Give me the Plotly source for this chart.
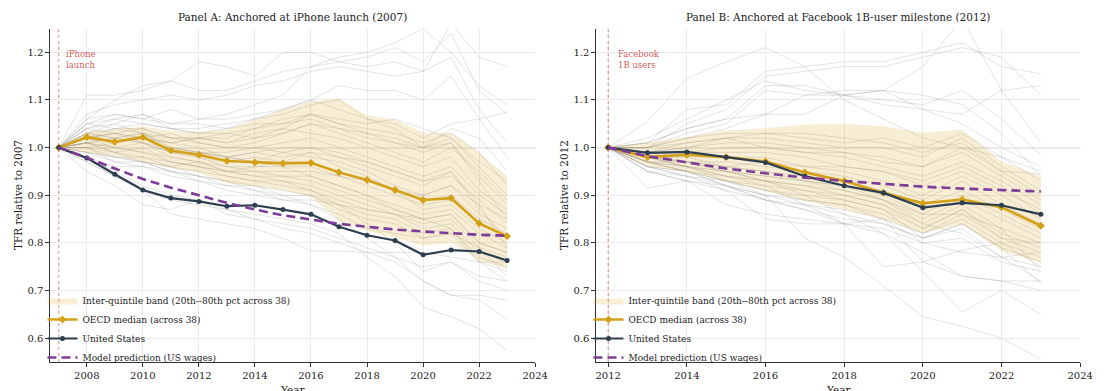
import plotly.graph_objects as go

# ---------------- data ----------------
years_a = list(range(2007, 2024))
years_b = list(range(2012, 2024))
anchor_a = 2007
anchor_b = 2012

median_a = [1.000, 1.022, 1.012, 1.022, 0.994, 0.985, 0.972, 0.969, 0.967, 0.968,
            0.948, 0.932, 0.911, 0.890, 0.894, 0.841, 0.814]
us_a = [1.000, 0.978, 0.944, 0.911, 0.894, 0.887, 0.877, 0.879, 0.870, 0.860,
        0.834, 0.816, 0.805, 0.775, 0.785, 0.782, 0.763]
model_a = [1.000, 0.979, 0.956, 0.934, 0.916, 0.900, 0.884, 0.870, 0.858, 0.849,
           0.840, 0.834, 0.828, 0.824, 0.820, 0.817, 0.815]
band_lo_a = [1.000, 0.989, 0.982, 0.971, 0.957, 0.947, 0.925, 0.919, 0.911, 0.897,
             0.847, 0.825, 0.811, 0.794, 0.801, 0.762, 0.745]
band_hi_a = [1.000, 1.033, 1.038, 1.045, 1.035, 1.032, 1.038, 1.058, 1.080, 1.097,
             1.103, 1.068, 1.059, 1.031, 1.031, 0.989, 0.940]

median_b = [1.000, 0.980, 0.985, 0.980, 0.971, 0.948, 0.930, 0.905, 0.883, 0.891,
            0.875, 0.836]
us_b = [1.000, 0.989, 0.991, 0.980, 0.969, 0.940, 0.920, 0.905, 0.874, 0.884,
        0.879, 0.860]
model_b = [1.000, 0.982, 0.969, 0.956, 0.946, 0.937, 0.930, 0.924, 0.918, 0.914,
           0.911, 0.908]
band_lo_b = [1.000, 0.961, 0.950, 0.930, 0.909, 0.888, 0.870, 0.849, 0.821, 0.839,
             0.783, 0.759]
band_hi_b = [1.000, 1.010, 1.022, 1.036, 1.041, 1.048, 1.050, 1.045, 1.031, 1.038,
             0.971, 0.940]

# individual OECD country trajectories (relative to anchor year)
countries_a = [
    [1.00, 1.06, 1.10, 1.13, 1.14, 1.18, 1.17, 1.15, 1.20, 1.20, 1.18, 1.17, 1.18, 1.16, 1.26, 1.19, 1.17],
    [1.00, 1.11, 1.11, 1.12, 1.14, 1.12, 1.12, 1.14, 1.16, 1.17, 1.19, 1.20, 1.22, 1.25, 1.20, 1.13, 1.09],
    [1.00, 1.05, 1.07, 1.06, 1.08, 1.06, 1.07, 1.09, 1.11, 1.17, 1.18, 1.19, 1.21, 1.18, 1.24, 1.12, 1.07],
    [1.00, 1.07, 1.09, 1.10, 1.11, 1.10, 1.11, 1.13, 1.14, 1.16, 1.17, 1.16, 1.15, 1.16, 1.19, 1.08, 1.01],
    [1.00, 1.06, 1.07, 1.06, 1.05, 1.06, 1.06, 1.07, 1.08, 1.10, 1.13, 1.12, 1.12, 1.10, 1.15, 1.06, 0.98],
    [1.00, 1.04, 1.06, 1.07, 1.05, 1.05, 1.04, 1.06, 1.08, 1.10, 1.08, 1.06, 1.05, 1.02, 1.05, 1.06, 1.075],
    [1.00, 1.05, 1.06, 1.05, 1.04, 1.04, 1.05, 1.06, 1.07, 1.09, 1.10, 1.06, 1.04, 1.00, 1.04, 1.02, 0.95],
    [1.00, 1.03, 1.05, 1.07, 1.04, 1.03, 1.03, 1.04, 1.06, 1.07, 1.06, 1.05, 1.06, 1.04, 1.02, 0.97, 0.93],
    [1.00, 1.03, 1.04, 1.05, 1.04, 1.03, 1.04, 1.05, 1.05, 1.07, 1.05, 1.04, 1.03, 1.01, 1.03, 0.99, 0.92],
    [1.00, 1.02, 1.03, 1.04, 1.02, 1.02, 1.02, 1.04, 1.05, 1.06, 1.04, 1.02, 1.01, 1.00, 1.02, 0.96, 0.90],
    [1.00, 1.04, 1.03, 1.02, 1.01, 1.02, 1.03, 1.02, 1.03, 1.05, 1.03, 1.01, 0.99, 0.97, 1.00, 0.95, 0.89],
    [1.00, 1.03, 1.02, 1.03, 1.00, 0.99, 0.99, 1.00, 1.01, 1.02, 1.00, 0.98, 0.96, 0.94, 0.96, 0.90, 0.86],
    [1.00, 1.02, 1.03, 1.02, 1.01, 1.00, 0.98, 0.99, 1.00, 1.00, 0.98, 0.96, 0.94, 0.92, 0.95, 0.88, 0.85],
    [1.00, 1.01, 1.02, 1.03, 1.00, 0.99, 0.98, 0.97, 0.99, 0.98, 0.97, 0.95, 0.92, 0.90, 0.92, 0.86, 0.83],
    [1.00, 1.02, 1.01, 1.02, 0.99, 0.98, 0.97, 0.98, 0.97, 0.97, 0.95, 0.93, 0.91, 0.89, 0.90, 0.85, 0.82],
    [1.00, 1.03, 1.02, 1.01, 0.99, 0.98, 0.96, 0.96, 0.96, 0.96, 0.94, 0.92, 0.90, 0.88, 0.89, 0.84, 0.81],
    [1.00, 1.01, 1.00, 1.01, 0.98, 0.97, 0.96, 0.95, 0.95, 0.95, 0.94, 0.93, 0.91, 0.87, 0.88, 0.83, 0.80],
    [1.00, 1.02, 1.00, 0.99, 0.98, 0.97, 0.95, 0.95, 0.94, 0.94, 0.92, 0.90, 0.88, 0.86, 0.87, 0.82, 0.79],
    [1.00, 1.00, 0.99, 1.00, 0.97, 0.96, 0.95, 0.94, 0.94, 0.93, 0.91, 0.89, 0.87, 0.85, 0.86, 0.80, 0.78],
    [1.00, 1.01, 0.99, 0.98, 0.97, 0.96, 0.94, 0.93, 0.93, 0.92, 0.90, 0.88, 0.86, 0.84, 0.85, 0.79, 0.77],
    [1.00, 1.00, 0.98, 0.98, 0.96, 0.95, 0.94, 0.93, 0.92, 0.91, 0.89, 0.87, 0.86, 0.83, 0.84, 0.78, 0.76],
    [1.00, 0.99, 0.98, 0.97, 0.96, 0.94, 0.93, 0.92, 0.91, 0.90, 0.88, 0.86, 0.85, 0.82, 0.83, 0.77, 0.75],
    [1.00, 1.00, 0.97, 0.97, 0.95, 0.94, 0.92, 0.92, 0.90, 0.90, 0.87, 0.85, 0.84, 0.81, 0.82, 0.76, 0.74],
    [1.00, 1.04, 1.05, 1.03, 1.02, 1.01, 1.00, 1.01, 1.03, 1.05, 1.04, 1.03, 1.01, 0.99, 1.01, 0.94, 0.88],
    [1.00, 1.02, 1.04, 1.04, 1.02, 1.02, 1.01, 1.03, 1.04, 1.03, 1.02, 1.00, 0.98, 0.96, 0.98, 0.91, 0.87],
    [1.00, 1.01, 0.99, 0.97, 0.96, 0.97, 0.95, 0.96, 0.97, 0.99, 0.98, 0.97, 0.95, 0.93, 0.94, 0.89, 0.84],
    [1.00, 0.99, 0.97, 0.96, 0.95, 0.93, 0.91, 0.90, 0.89, 0.89, 0.88, 0.87, 0.86, 0.85, 0.86, 0.80, 0.78],
    [1.00, 0.98, 0.96, 0.96, 0.94, 0.93, 0.92, 0.91, 0.89, 0.88, 0.86, 0.83, 0.82, 0.81, 0.82, 0.79, 0.73],
    [1.00, 0.95, 0.92, 0.88, 0.87, 0.89, 0.86, 0.85, 0.84, 0.83, 0.81, 0.79, 0.77, 0.75, 0.76, 0.73, 0.72],
    [1.00, 0.97, 0.94, 0.91, 0.86, 0.85, 0.84, 0.83, 0.81, 0.783, 0.783, 0.78, 0.78, 0.78, 0.77, 0.76, 0.76],
    [1.00, 0.98, 0.95, 0.92, 0.90, 0.89, 0.87, 0.85, 0.83, 0.82, 0.80, 0.78, 0.76, 0.72, 0.69, 0.69, 0.68],
    [1.00, 0.97, 0.94, 0.91, 0.89, 0.88, 0.87, 0.86, 0.85, 0.84, 0.82, 0.77, 0.73, 0.665, 0.645, 0.62, 0.574],
    [1.00, 0.99, 0.98, 0.97, 0.95, 0.94, 0.93, 0.91, 0.90, 0.88, 0.85, 0.81, 0.77, 0.72, 0.69, 0.68, 0.64],
    [1.00, 1.01, 1.00, 0.99, 0.97, 0.96, 0.95, 0.94, 0.93, 0.91, 0.88, 0.84, 0.80, 0.74, 0.76, 0.72, 0.70],
    [1.00, 1.02, 1.03, 1.01, 1.00, 0.99, 0.98, 0.97, 0.96, 0.94, 0.92, 0.90, 0.87, 0.85, 0.83, 0.76, 0.72],
    [1.00, 1.00, 1.01, 1.02, 1.03, 1.01, 1.00, 1.00, 0.99, 1.00, 0.99, 0.97, 0.95, 0.93, 0.95, 0.87, 0.81],
    [1.00, 1.05, 1.04, 1.03, 1.01, 1.02, 1.01, 1.02, 1.04, 1.07, 1.05, 1.03, 1.02, 1.00, 1.01, 0.93, 0.85],
    [1.00, 1.01, 1.02, 1.01, 0.99, 0.99, 0.98, 0.99, 0.98, 0.99, 0.96, 0.94, 0.91, 0.90, 0.92, 0.88, 0.79],
]

countries_b = [
    [1.00, 1.055, 1.145, 1.18, 1.21, 1.17, 1.10, 1.06, 1.02, 1.00, 0.98, 0.95],
    [1.00, 1.01, 1.08, 1.09, 1.16, 1.17, 1.18, 1.18, 1.20, 1.22, 1.17, 1.155],
    [1.00, 1.00, 1.05, 1.08, 1.15, 1.16, 1.17, 1.17, 1.19, 1.21, 1.19, 1.11],
    [1.00, 1.01, 1.04, 1.06, 1.13, 1.13, 1.11, 1.12, 1.17, 1.27, 1.12, 1.01],
    [1.00, 1.02, 1.06, 1.10, 1.14, 1.12, 1.11, 1.10, 1.09, 1.12, 1.06, 0.985],
    [1.00, 1.00, 1.03, 1.05, 1.12, 1.11, 1.12, 1.12, 1.08, 1.07, 1.12, 1.13],
    [1.00, 1.01, 1.04, 1.06, 1.07, 1.11, 1.11, 1.12, 1.11, 1.09, 1.03, 0.94],
    [1.00, 1.00, 1.02, 1.04, 1.07, 1.07, 1.11, 1.09, 1.08, 1.05, 1.00, 0.96],
    [1.00, 1.00, 1.02, 1.03, 1.03, 1.02, 1.01, 1.02, 1.00, 1.03, 0.98, 0.93],
    [1.00, 0.99, 1.01, 1.02, 1.02, 1.01, 1.00, 1.00, 0.98, 1.02, 0.96, 0.91],
    [1.00, 0.99, 1.00, 1.01, 1.01, 1.00, 0.99, 0.98, 0.96, 1.00, 0.95, 0.90],
    [1.00, 0.99, 0.99, 1.00, 1.00, 0.99, 0.98, 0.96, 0.94, 0.97, 0.93, 0.88],
    [1.00, 0.98, 0.99, 0.99, 0.99, 0.98, 0.96, 0.95, 0.92, 0.95, 0.91, 0.87],
    [1.00, 0.98, 0.98, 0.98, 0.98, 0.96, 0.95, 0.93, 0.90, 0.94, 0.90, 0.85],
    [1.00, 0.98, 0.97, 0.97, 0.96, 0.95, 0.94, 0.92, 0.89, 0.93, 0.88, 0.84],
    [1.00, 0.97, 0.97, 0.96, 0.95, 0.94, 0.93, 0.91, 0.88, 0.91, 0.87, 0.83],
    [1.00, 0.97, 0.96, 0.95, 0.94, 0.93, 0.92, 0.90, 0.86, 0.90, 0.86, 0.82],
    [1.00, 0.97, 0.96, 0.95, 0.93, 0.92, 0.91, 0.89, 0.85, 0.89, 0.85, 0.81],
    [1.00, 0.96, 0.95, 0.94, 0.92, 0.91, 0.90, 0.88, 0.84, 0.88, 0.83, 0.80],
    [1.00, 0.96, 0.95, 0.93, 0.91, 0.90, 0.89, 0.87, 0.83, 0.87, 0.82, 0.79],
    [1.00, 0.96, 0.94, 0.93, 0.90, 0.89, 0.88, 0.86, 0.82, 0.86, 0.81, 0.78],
    [1.00, 0.95, 0.94, 0.92, 0.90, 0.88, 0.87, 0.85, 0.82, 0.85, 0.80, 0.77],
    [1.00, 0.95, 0.93, 0.91, 0.89, 0.88, 0.86, 0.84, 0.81, 0.84, 0.79, 0.76],
    [1.00, 0.99, 1.00, 1.02, 1.03, 1.03, 1.02, 1.01, 0.99, 1.01, 0.95, 0.945],
    [1.00, 1.00, 1.01, 1.02, 1.00, 0.99, 0.99, 0.97, 0.96, 0.99, 0.94, 0.89],
    [1.00, 0.98, 0.97, 0.96, 0.97, 0.96, 0.96, 0.95, 0.93, 0.96, 0.92, 0.86],
    [1.00, 0.915, 0.93, 0.92, 0.89, 0.87, 0.85, 0.84, 0.81, 0.83, 0.77, 0.75],
    [1.00, 0.95, 0.93, 0.88, 0.86, 0.85, 0.84, 0.83, 0.80, 0.78, 0.77, 0.72],
    [1.00, 0.96, 0.94, 0.91, 0.85, 0.84, 0.84, 0.85, 0.76, 0.73, 0.72, 0.72],
    [1.00, 0.97, 0.95, 0.92, 0.90, 0.81, 0.77, 0.71, 0.645, 0.625, 0.60, 0.556],
    [1.00, 0.97, 0.95, 0.93, 0.92, 0.88, 0.84, 0.75, 0.76, 0.785, 0.80, 0.75],
    [1.00, 0.98, 0.96, 0.94, 0.93, 0.90, 0.86, 0.82, 0.74, 0.655, 0.70, 0.65],
    [1.00, 0.97, 0.95, 0.92, 0.89, 0.87, 0.84, 0.82, 0.78, 0.73, 0.72, 0.70],
    [1.00, 0.98, 0.96, 0.93, 0.91, 0.89, 0.88, 0.85, 0.80, 0.81, 0.76, 0.74],
    [1.00, 0.98, 0.97, 0.95, 0.93, 0.91, 0.89, 0.87, 0.81, 0.84, 0.79, 0.715],
    [1.00, 0.99, 0.98, 0.96, 0.95, 0.93, 0.91, 0.89, 0.84, 0.82, 0.77, 0.78],
    [1.00, 0.99, 0.97, 0.95, 0.94, 0.93, 0.92, 0.89, 0.86, 0.86, 0.83, 0.74],
    [1.00, 0.98, 0.96, 0.94, 0.93, 0.92, 0.90, 0.88, 0.83, 0.87, 0.81, 0.80],
]

panel_titles = ["Panel A: Anchored at iPhone launch (2007)",
                "Panel B: Anchored at Facebook 1B-user milestone (2012)"]
event_labels = ["iPhone<br>launch", "Facebook<br>1B users"]
ylabels = ["TFR relative to 2007", "TFR relative to 2012"]
legend_names = ["Inter-quintile band (20th--80th pct across 38)",
                "OECD median (across 38)", "United States",
                "Model prediction (US wages)"]

# ---------------- style ----------------
FONT = "DejaVu Serif"
GOLD = "#D4A017"
NAVY = "#2C3E50"
PURPLE = "#7D3C98"
RED = "rgba(205,70,60,0.9)"
W, H = 1107, 391

fig = go.Figure()


def add_panel(xa, ya, years, countries, lo, hi, med, us, model, legend):
    for c in countries:
        fig.add_trace(go.Scatter(x=years, y=c, mode="lines",
                                 line=dict(color="rgba(150,150,150,0.34)", width=0.8),
                                 showlegend=False, hoverinfo="skip",
                                 xaxis=xa, yaxis=ya))
    fig.add_trace(go.Scatter(x=years, y=lo, mode="lines", line=dict(width=0),
                             showlegend=False, hoverinfo="skip", xaxis=xa, yaxis=ya))
    fig.add_trace(go.Scatter(x=years, y=hi, mode="lines", line=dict(width=0),
                             fill="tonexty", fillcolor="rgba(212,160,23,0.18)",
                             name=legend_names[0], legend=legend, xaxis=xa, yaxis=ya))
    fig.add_trace(go.Scatter(x=years, y=med, mode="lines+markers",
                             line=dict(color=GOLD, width=2.6),
                             marker=dict(symbol="diamond", size=6, color=GOLD),
                             name=legend_names[1], legend=legend, xaxis=xa, yaxis=ya))
    fig.add_trace(go.Scatter(x=years, y=us, mode="lines+markers",
                             line=dict(color=NAVY, width=2.2),
                             marker=dict(symbol="circle", size=5, color=NAVY),
                             name=legend_names[2], legend=legend, xaxis=xa, yaxis=ya))
    fig.add_trace(go.Scatter(x=years, y=model, mode="lines",
                             line=dict(color=PURPLE, width=2.6, dash="9px,5px"),
                             name=legend_names[3], legend=legend, xaxis=xa, yaxis=ya))


add_panel("x", "y", years_a, countries_a, band_lo_a, band_hi_a, median_a, us_a, model_a, "legend")
add_panel("x2", "y2", years_b, countries_b, band_lo_b, band_hi_b, median_b, us_b, model_b, "legend2")

ydom = [1 - 362 / H, 1 - 28.5 / H]
xdomA = [50 / W, 541 / W]
xdomB = [603 / W, 1093 / W]

axis_common = dict(showline=True, linecolor="#333333", linewidth=1,
                   ticks="outside", ticklen=4, tickwidth=1, tickcolor="#333333",
                   showgrid=True, gridcolor="#ececec", gridwidth=0.8,
                   zeroline=False, tickfont=dict(family=FONT, size=10, color="#222222"))

legend_common = dict(xanchor="left", yanchor="middle", traceorder="normal",
                     bgcolor="rgba(0,0,0,0)", font=dict(family=FONT, size=9, color="#222222"),
                     tracegroupgap=0)

fig.update_layout(
    width=W, height=H, margin=dict(l=0, r=0, t=0, b=0),
    paper_bgcolor="white", plot_bgcolor="white",
    font=dict(family=FONT, size=10, color="#222222"),
    xaxis=dict(domain=xdomA, range=[anchor_a - 0.3, 2024], tick0=2008, dtick=2,
               anchor="y", **axis_common),
    yaxis=dict(domain=ydom, range=[0.55, 1.25], tick0=0.6, dtick=0.1,
               tickformat=".1f", anchor="x", **axis_common),
    xaxis2=dict(domain=xdomB, range=[anchor_b - 0.3, 2024], tick0=2012, dtick=2,
                anchor="y2", **axis_common),
    yaxis2=dict(domain=ydom, range=[0.55, 1.25], tick0=0.6, dtick=0.1,
                tickformat=".1f", anchor="x2", **axis_common),
    legend=dict(x=42 / W, y=1 - 329 / H, **legend_common),
    legend2=dict(x=595 / W, y=1 - 329 / H, **legend_common),
    showlegend=True,
)

shapes = []
annotations = []
for i, (xr, yr, anchor, xdom) in enumerate([("x", "y", anchor_a, xdomA), ("x2", "y2", anchor_b, xdomB)]):
    # reference line at 1.0
    shapes.append(dict(type="line", xref=xr + " domain", x0=0, x1=1, yref=yr, y0=1.0, y1=1.0,
                       line=dict(color="rgba(150,150,150,0.75)", width=1.2), layer="below"))
    # event marker
    shapes.append(dict(type="line", xref=xr, x0=anchor, x1=anchor, yref=yr + " domain", y0=0, y1=1,
                       line=dict(color="rgba(220,80,70,0.7)", width=1, dash="dot"), layer="above"))
    annotations.append(dict(xref=xr, yref=yr, x=anchor + 0.2, y=1.212, xanchor="left", yanchor="top",
                            text=event_labels[i], showarrow=False, align="left",
                            font=dict(family=FONT, size=8.5, color=RED)))
    cx = (xdom[0] + xdom[1]) / 2
    annotations.append(dict(xref="paper", yref="paper", x=cx, y=1 - 16.5 / H, xanchor="center",
                            yanchor="middle", text=panel_titles[i], showarrow=False,
                            font=dict(family=FONT, size=10.5, color="#222222")))
    annotations.append(dict(xref="paper", yref="paper", x=cx, y=1 - 382 / H, xanchor="center",
                            yanchor="top", text="Year", showarrow=False,
                            font=dict(family=FONT, size=10.5, color="#222222")))
    annotations.append(dict(xref="paper", yref="paper", x=(xdom[0] * W - 33) / W,
                            y=(ydom[0] + ydom[1]) / 2, xanchor="center", yanchor="middle",
                            textangle=-90, text=ylabels[i], showarrow=False,
                            font=dict(family=FONT, size=10.5, color="#222222")))

fig.update_layout(shapes=shapes, annotations=annotations)
fig.write_html("out.html")
